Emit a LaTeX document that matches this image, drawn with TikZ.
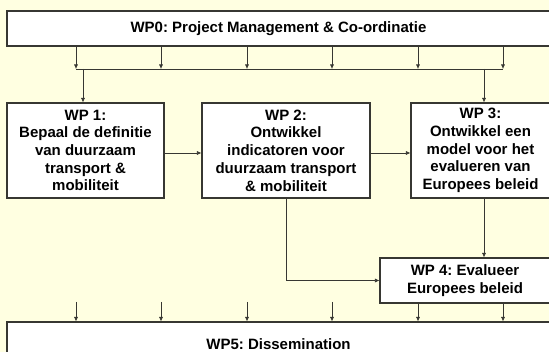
\documentclass[tikz,border=0pt]{standalone}
\usepackage{fontspec}
\setmainfont{Liberation Sans}
\usetikzlibrary{arrows.meta}
\definecolor{bg}{RGB}{255, 255, 225}
\definecolor{ln}{RGB}{55, 55, 50}
\frenchspacing

\begin{document}
\begin{tikzpicture}[
  wpbox/.style={rectangle, draw=ln, line width=1.1pt, fill=white, align=center, inner sep=0pt, font=\bfseries\fontsize{15}{17.7}\selectfont},
  conn/.style={draw=ln, line width=0.6pt, -{Latex[length=4.5pt,width=4pt]}},
  bar/.style={draw=ln, line width=0.6pt}]
\useasboundingbox [fill=bg] (0pt, 0pt) rectangle (549pt, -352pt);
\node (wp0) [wpbox, minimum width=543pt, minimum height=35pt] at (278.5pt, -28.5pt) {WP0: Project Management \& Co-ordinatie};
\node (wp1) [wpbox, minimum width=157pt, minimum height=95pt] at (85.5pt, -150.5pt) {WP 1:\\Bepaal de definitie\\van duurzaam\\transport \&\\mobiliteit};
\node (wp2) [wpbox, minimum width=168pt, minimum height=95pt] at (286pt, -150.5pt) {WP 2:\\Ontwikkel\\indicatoren voor\\duurzaam transport\\\& mobiliteit};
\node (wp3) [wpbox, minimum width=139pt, minimum height=95pt] at (480.5pt, -150.5pt) {WP 3:\\Ontwikkel een\\model voor het\\evalueren van\\Europees beleid};
\node (wp4) [wpbox, minimum width=170pt, minimum height=45pt] at (465pt, -280.5pt) {WP 4: Evalueer\\Europees beleid};
\node (wp5) [wpbox, minimum width=543pt, minimum height=44pt] at (278.5pt, -344pt) {WP5: Dissemination};
% verdeelbalk onder WP0
\coordinate (t1) at (76pt, -69pt);
\coordinate (t2) at (161pt, -69pt);
\coordinate (t3) at (247pt, -69pt);
\coordinate (t4) at (332pt, -69pt);
\coordinate (t5) at (418pt, -69pt);
\coordinate (t6) at (503pt, -69pt);
\coordinate (d1) at (83pt, -69pt);
\coordinate (d3) at (484pt, -69pt);
\draw [conn] (wp0.south -| t1) -- (t1);
\draw [conn] (wp0.south -| t2) -- (t2);
\draw [conn] (wp0.south -| t3) -- (t3);
\draw [conn] (wp0.south -| t4) -- (t4);
\draw [conn] (wp0.south -| t5) -- (t5);
\draw [conn] (wp0.south -| t6) -- (t6);
\draw [bar] (t1) -- (t6);
\draw [conn] (d1) -- (d1 |- wp1.north);
\draw [conn] (d3) -- (d3 |- wp3.north);
\draw [conn] ([yshift=-2.5pt]wp1.east) -- ([yshift=-2.5pt]wp2.west);
\draw [conn] ([yshift=-2.5pt]wp2.east) -- ([yshift=-2.5pt]wp3.west);
\draw [conn] (wp2.south) |- (wp4.west);
\draw [conn] (wp3.south -| d3) -- (d3 |- wp4.north);
% pijlen naar WP5
\coordinate (b1) at (76pt, -302pt);
\coordinate (b2) at (161pt, -302pt);
\coordinate (b3) at (247pt, -302pt);
\coordinate (b4) at (332pt, -302pt);
\coordinate (b5) at (418pt, -302pt);
\coordinate (b6) at (503pt, -302pt);
\draw [conn] (b1) -- (b1 |- wp5.north);
\draw [conn] (b2) -- (b2 |- wp5.north);
\draw [conn] (b3) -- (b3 |- wp5.north);
\draw [conn] (b4) -- (b4 |- wp5.north);
\draw [conn] (wp4.south -| b5) -- (b5 |- wp5.north);
\draw [conn] (wp4.south -| b6) -- (b6 |- wp5.north);
\end{tikzpicture}
\end{document}
